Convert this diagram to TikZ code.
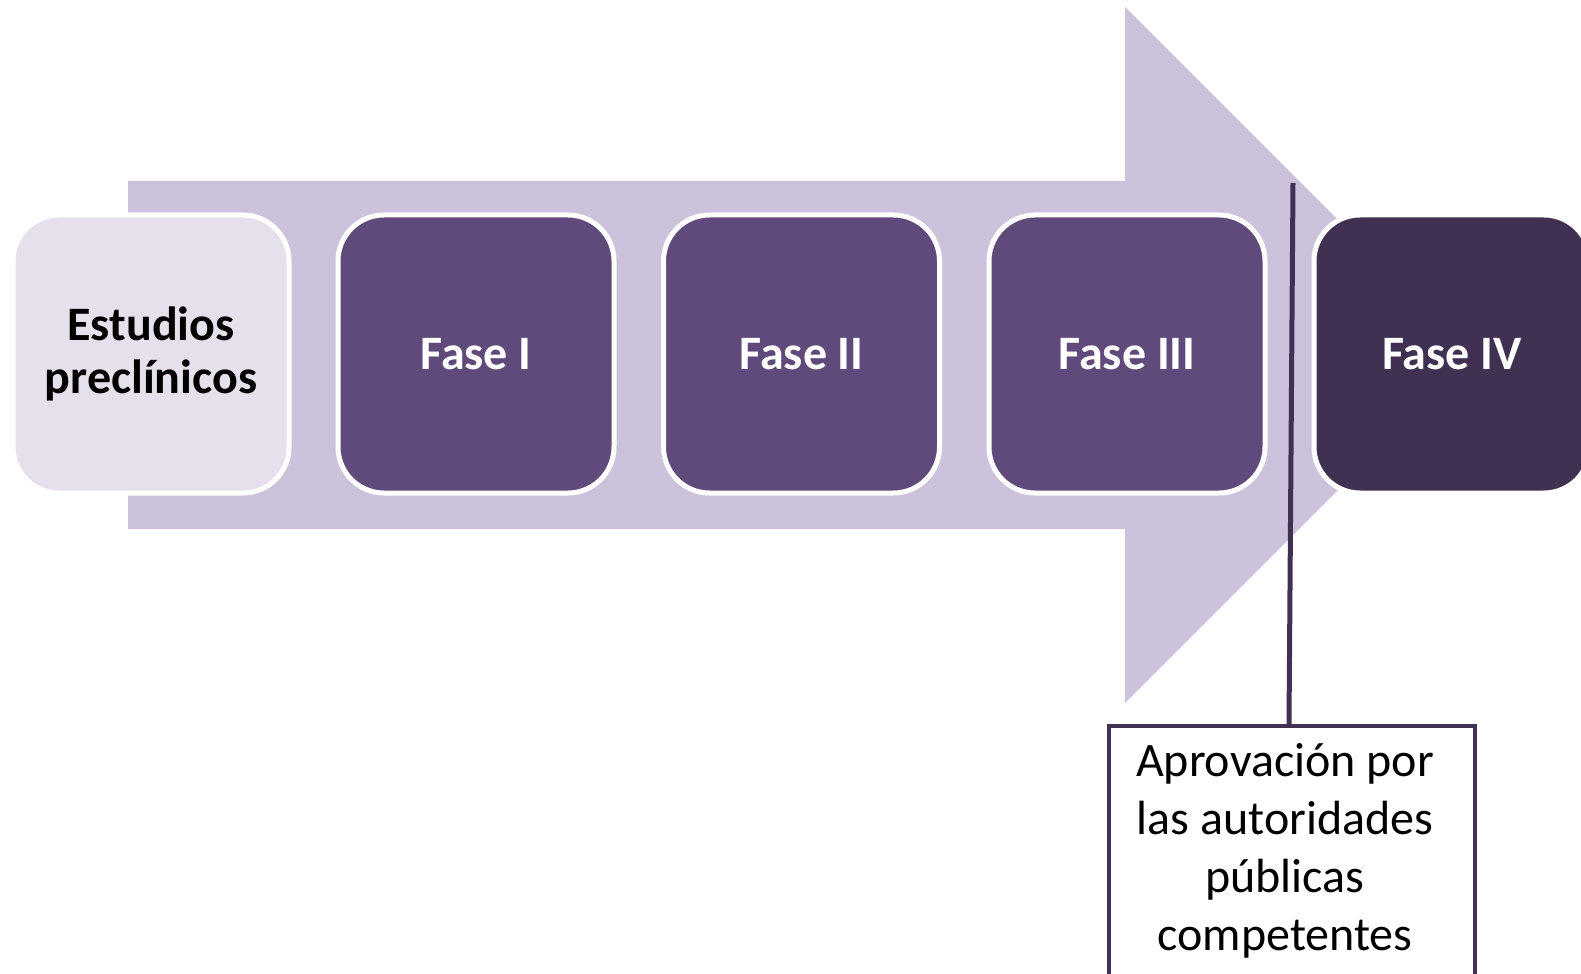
\documentclass[tikz,border=0pt]{standalone}
\usepackage{fontspec}
\setmainfont{Carlito}
\definecolor{arrowfill}{HTML}{CCC2DB}
\definecolor{lightphase}{HTML}{E5E0EC}
\definecolor{midphase}{HTML}{604A7B}
\definecolor{darkphase}{HTML}{403152}
\tikzset{
  phase/.style={draw=white, line width=2.5pt, rounded corners=23pt,
    minimum width=138pt, minimum height=139pt, inner sep=0pt,
    align=center, text=white,
    font=\bfseries\fontsize{24}{26.5}\selectfont},
  notebox/.style={draw=darkphase, line width=2pt, minimum width=183pt,
    minimum height=125pt, inner sep=0pt},
  notetext/.style={inner sep=0pt, align=center, text=black,
    font=\fontsize{24}{29}\selectfont},
  leader/.style={draw=darkphase, line width=2.5pt}
}
\begin{document}
\begin{tikzpicture}[x=0.5pt,y=-0.5pt]
\useasboundingbox (0,0) rectangle (1581,974);
\clip (0,0) rectangle (1581,974);
% large background arrow
\fill[arrowfill] (128,181) -- (1125,181) -- (1125,7) -- (1473,355)
  -- (1125,703) -- (1125,529) -- (128,529) -- cycle;
% process steps
\node[phase, fill=lightphase, text=black] (pre) at (151,354) {Estudios\\preclínicos};
\node[phase, fill=midphase] (f1) at (476,354) {Fase I};
\node[phase, fill=midphase] (f2) at (801.5,354) {Fase II};
\node[phase, fill=midphase] (f3) at (1127,354) {Fase III};
\node[phase, fill=darkphase] (f4) at (1452,354) {Fase IV};
% approval callout
\node[notebox, anchor=north] (note) at (1292,724) {};
\node[notetext] (notetext) at ([xshift=-3.5pt]note.center)
  {Aprovación por\\las autoridades\\públicas\\competentes};
\coordinate (tick) at (1293,183);
\draw[leader] (tick) -- ([xshift=-1.5pt]note.north);
\end{tikzpicture}
\end{document}
